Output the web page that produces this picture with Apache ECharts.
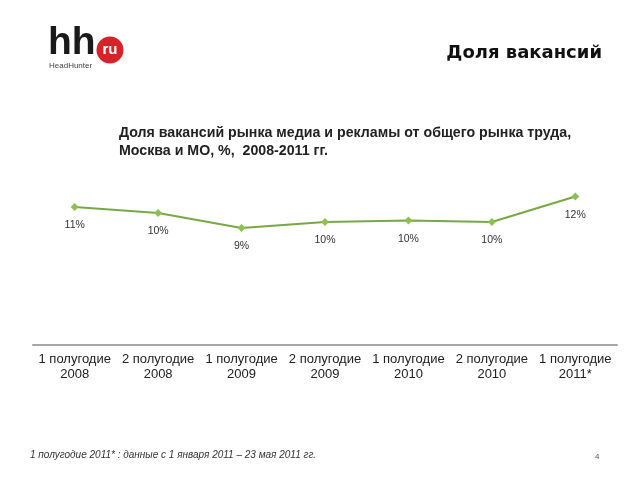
<!DOCTYPE html>
<html><head><meta charset="utf-8">
<script src="https://cdn.jsdelivr.net/npm/echarts@6/dist/echarts.min.js"></script>
<style>html,body{margin:0;padding:0;background:#fff}#c{width:640px;height:480px}</style>
</head><body><div id="c"></div>
<script>
const categories = ['1 полугодие\n2008','2 полугодие\n2008','1 полугодие\n2009','2 полугодие\n2009','1 полугодие\n2010','2 полугодие\n2010','1 полугодие\n2011*'];
const values = [10.8, 10.4, 9.4, 9.8, 9.9, 9.8, 11.5];
const titleText = 'Доля вакансий рынка медиа и рекламы от общего рынка труда,\nМосква и МО, %,  2008-2011 гг.';
const headerText = 'Доля вакансий';
const footnoteText = '1 полугодие 2011* : данные с 1 января 2011 – 23 мая 2011 гг.';
const pageNum = '4';

const chart = echarts.init(document.getElementById('c'));
chart.setOption({
  backgroundColor: '#fff',
  animation: false,
  title: {
    text: titleText, left: 114, top: 119,
    textStyle: {fontFamily: 'Liberation Sans, Arial', fontSize: 14.2, fontWeight: 'bold', color: '#222', lineHeight: 18}
  },
  grid: {left: 33, right: 23, top: 105, bottom: 135},
  xAxis: {
    type: 'category', data: categories, boundaryGap: true,
    axisLine: {lineStyle: {color: '#a6a6a6', width: 2}},
    axisTick: {show: false},
    axisLabel: {color: '#222', fontFamily: 'Liberation Sans, Arial', fontSize: 13, lineHeight: 15, margin: 7, interval: 0}
  },
  yAxis: {type: 'value', min: 1.6, max: 17.6, show: false, splitLine: {show: false}},
  series: [{
    type: 'line', data: values,
    symbol: 'diamond', symbolSize: 8,
    lineStyle: {color: '#78a845', width: 2},
    itemStyle: {color: '#8cc152'},
    label: {show: true, position: 'bottom', distance: 9, color: '#333', fontFamily: 'Liberation Sans, Arial', fontSize: 10.5,
      formatter: p => Math.round(p.value) + '%'}
  }],
  graphic: [
    {type: 'text', left: 48, top: 24, style: {text: 'hh', font: 'bold 39px "Liberation Sans Narrow", "Liberation Sans", Arial', fill: '#1a1a1a'}},
    {type: 'circle', shape: {cx: 110, cy: 50, r: 13.5}, style: {fill: '#d6232a'}},
    {type: 'text', x: 110, y: 50, style: {text: 'ru', font: 'bold 15px "Liberation Sans", Arial', fill: '#fff', align: 'center', verticalAlign: 'middle'}},
    {type: 'text', left: 49, top: 62, style: {text: 'HeadHunter', font: '8px "Liberation Sans Narrow", "Liberation Sans", Arial', fill: '#444'}},
    {type: 'text', x: 602, y: 53, style: {text: headerText, font: 'bold 18px "DejaVu Sans", Verdana', fill: '#111', align: 'right', verticalAlign: 'middle'}},
    {type: 'text', left: 30, top: 450, style: {text: footnoteText, font: 'italic 10px "Liberation Sans", Arial', fill: '#333'}},
    {type: 'text', left: 595, top: 453, style: {text: pageNum, font: '8px "Liberation Sans", Arial', fill: '#555'}}
  ]
});
</script></body></html>
